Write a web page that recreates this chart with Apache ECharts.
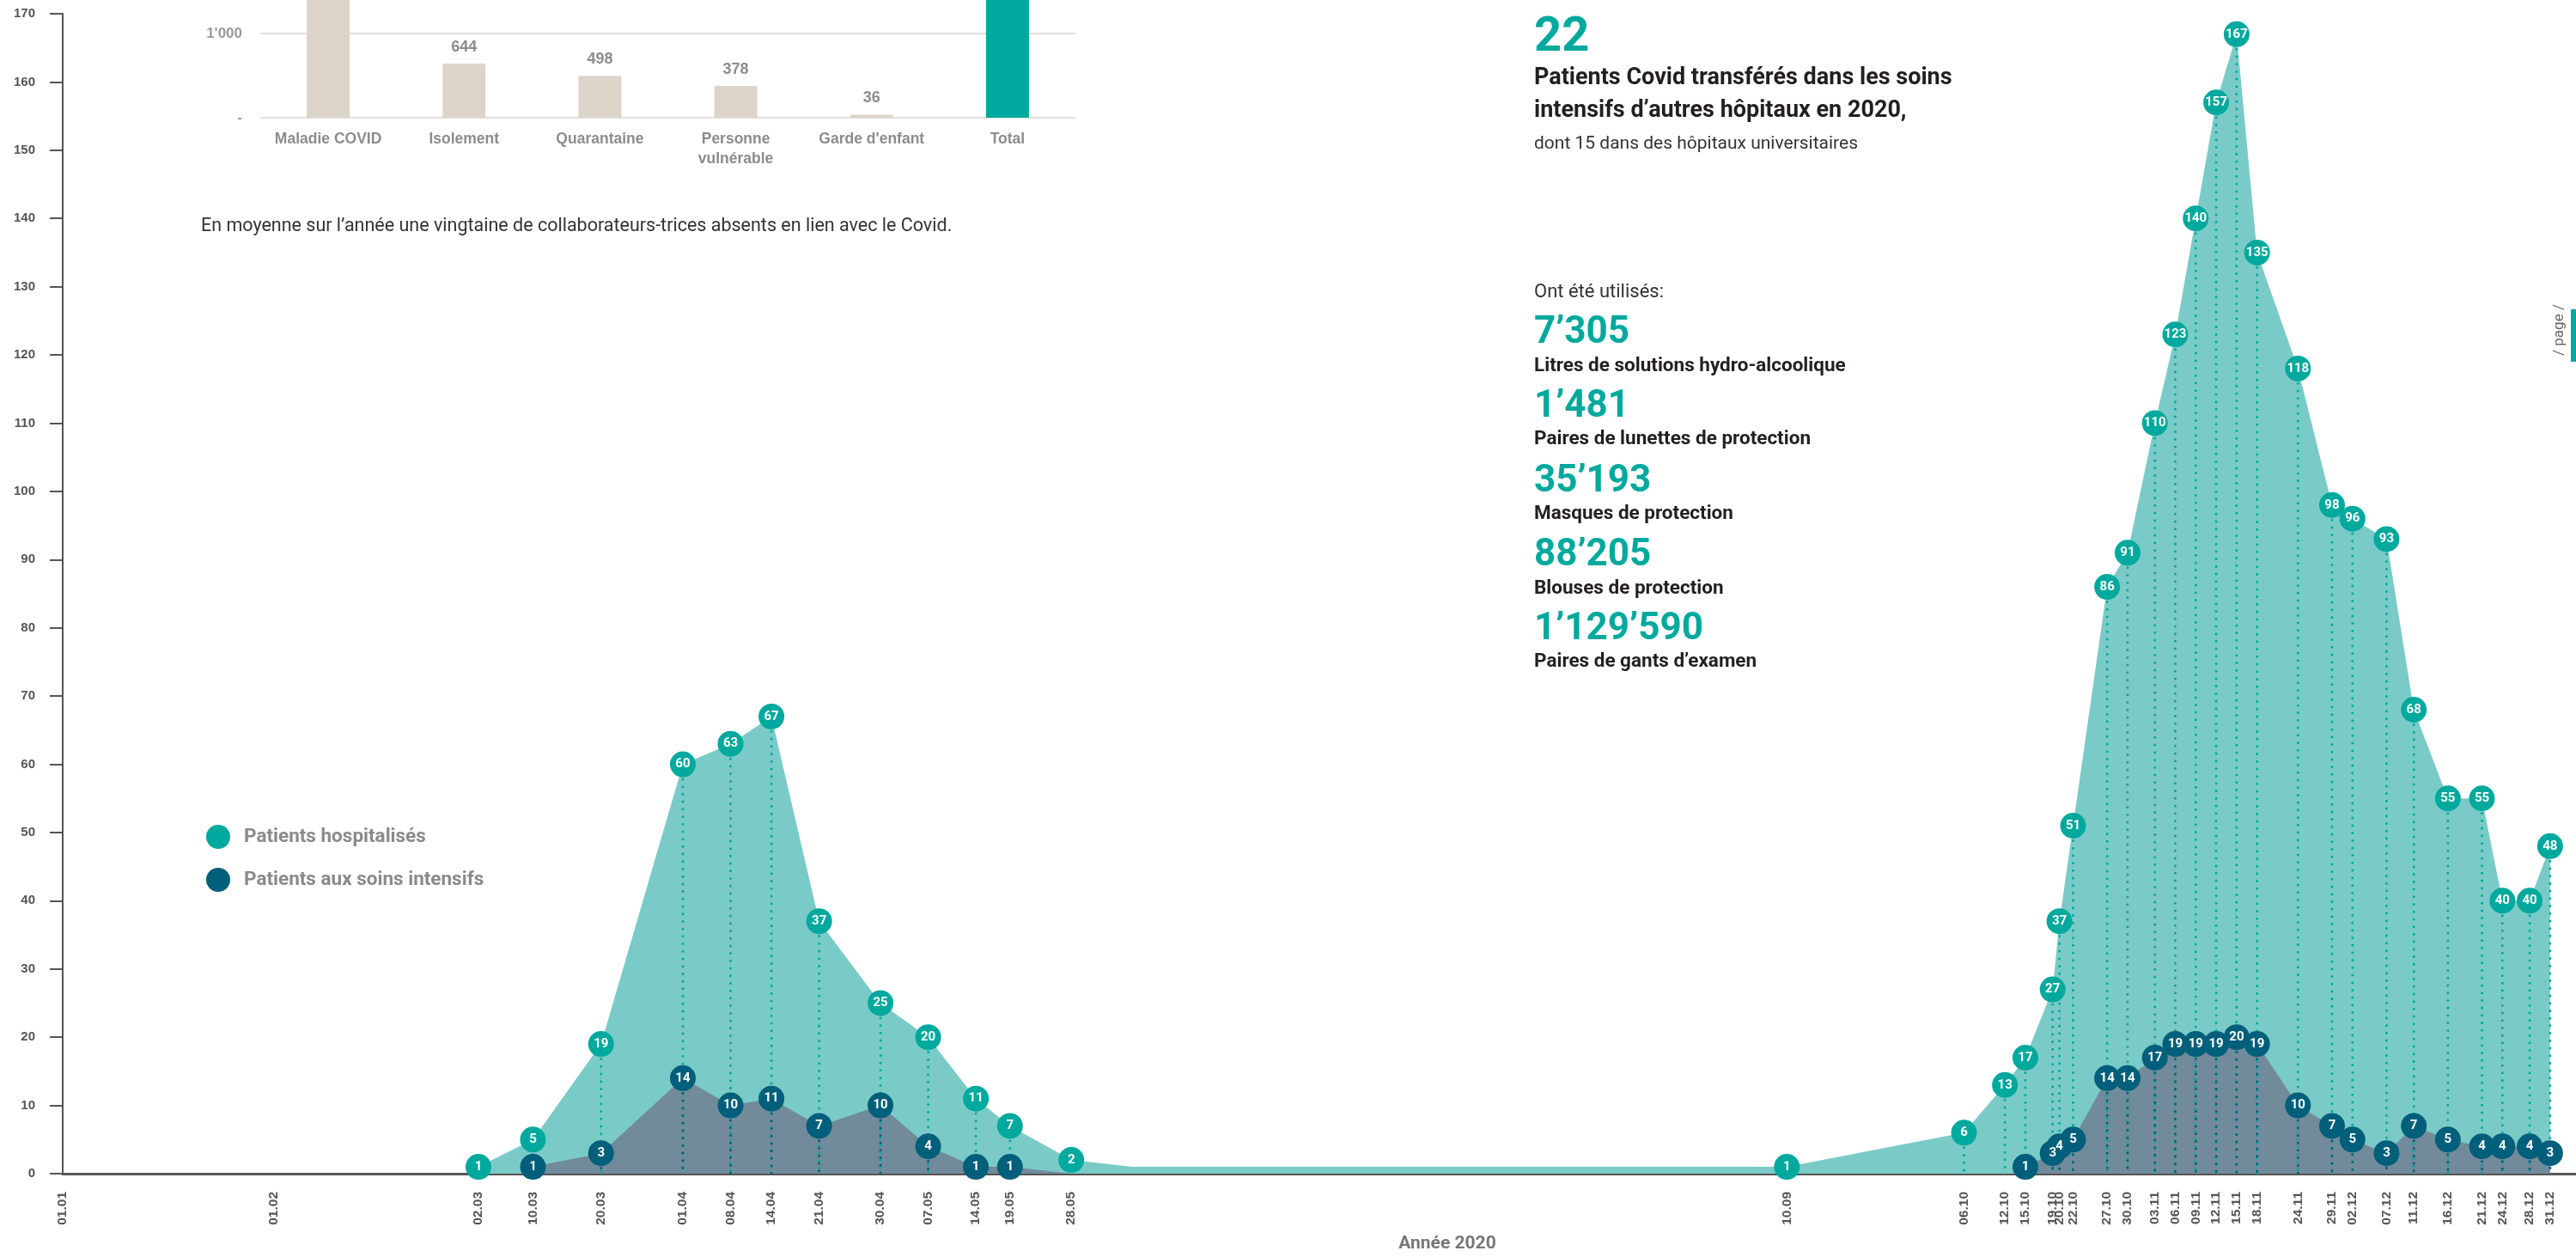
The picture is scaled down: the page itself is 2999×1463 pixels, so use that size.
<!DOCTYPE html>
<html>
<head>
<meta charset="utf-8">
<script src="https://cdn.jsdelivr.net/npm/echarts@6/dist/echarts.min.js"></script>
<style>
html,body{margin:0;padding:0;background:#fff;}
#chart{width:2999px;height:1463px;}
</style>
</head>
<body>
<div id="chart"></div>
<script>
// ---------- DATA ----------
const xTickLabels = ['01.01','01.02','02.03','10.03','20.03','01.04','08.04','14.04','21.04','30.04','07.05','14.05','19.05','28.05','10.09','06.10','12.10','15.10','19.10','20.10','22.10','27.10','30.10','03.11','06.11','09.11','12.11','15.11','18.11','24.11','29.11','02.12','07.12','11.12','16.12','21.12','24.12','28.12','31.12'];

const hospDates  = ['02.03','10.03','20.03','01.04','08.04','14.04','21.04','30.04','07.05','14.05','19.05','28.05','06.06','10.09','06.10','12.10','15.10','19.10','20.10','22.10','27.10','30.10','03.11','06.11','09.11','12.11','15.11','18.11','24.11','29.11','02.12','07.12','11.12','16.12','21.12','24.12','28.12','31.12'];
const hospValues = [1,5,19,60,63,67,37,25,20,11,7,2,1,1,6,13,17,27,37,51,86,91,110,123,140,157,167,135,118,98,96,93,68,55,55,40,40,48];
const hospUnlabeled = ['06.06'];

const icuWave1Dates  = ['10.03','20.03','01.04','08.04','14.04','21.04','30.04','07.05','14.05','19.05','28.05'];
const icuWave1Values = [1,3,14,10,11,7,10,4,1,1,0];
const icuWave2Dates  = ['15.10','19.10','20.10','22.10','27.10','30.10','03.11','06.11','09.11','12.11','15.11','18.11','24.11','29.11','02.12','07.12','11.12','16.12','21.12','24.12','28.12','31.12'];
const icuWave2Values = [1,3,4,5,14,14,17,19,19,19,20,19,10,7,5,3,7,5,4,4,4,3];

const yTicks = {min:0, max:170, interval:10};

const barCategories = ['Maladie COVID','Isolement','Quarantaine','Personne\nvulnérable',"Garde d'enfant",'Total'];
const barValues = [1850, 644, 498, 378, 36, 3406];

const seriesNames = ['Patients hospitalisés','Patients aux soins intensifs'];

// ---------- HELPERS ----------
function doy(s){ const [d,m]=s.split('.').map(Number); return (Date.UTC(2020,m-1,d)-Date.UTC(2020,0,1))/86400000; }
const labelByDay = {}; xTickLabels.forEach(l=>{ labelByDay[doy(l)] = l; });

const TEAL='#00a99d', TEAL_AREA='#7acbc7', DARK='#005f7a', DARK_AREA='#718b9b';

const hospLine = hospDates.map((d,i)=>[doy(d), hospValues[i]]);
const hospPts = hospDates.map((d,i)=>[doy(d), hospValues[i]]).filter((p,i)=>hospUnlabeled.indexOf(hospDates[i])<0);
const icuLine = icuWave1Dates.map((d,i)=>[doy(d), icuWave1Values[i]])
  .concat([[ (doy(icuWave1Dates[icuWave1Dates.length-1])+doy(icuWave2Dates[0]))/2, '-' ]])
  .concat(icuWave2Dates.map((d,i)=>[doy(d), icuWave2Values[i]]));
const icuPts = icuWave1Dates.map((d,i)=>[doy(d), icuWave1Values[i]])
  .concat(icuWave2Dates.map((d,i)=>[doy(d), icuWave2Values[i]]))
  .filter(p=>p[1]>0);

function dotted(color){
  return function(params, api){
    const x = api.value(0), y = api.value(1);
    const p1 = api.coord([x,y]), p0 = api.coord([x,0]);
    return {type:'line', shape:{x1:p1[0],y1:p1[1],x2:p0[0],y2:p0[1]},
      style:{stroke:color, lineWidth:3, lineDash:[0.01,8.7], lineCap:'round'}};
  };
}

const FONT='Roboto';
const chart = echarts.init(document.getElementById('chart'));

const rightX = 1786;
const txt = (text, x, y, size, color, weight) => ({
  type:'text', x:x, y:y, silent:true,
  style:{text:text, fill:color, font:(weight||'normal')+' '+size+'px '+FONT, textVerticalAlign:'middle'}
});

chart.setOption({
  animation:false,
  grid:[
    {left:73, right:0, top:16, bottom:97},
    {left:303, width:949, top:0, bottom:1326}
  ],
  xAxis:[
    {type:'value', gridIndex:0, min:0, max:368.8,
     axisLine:{show:true, lineStyle:{color:'#555', width:3}},
     axisTick:{show:false}, splitLine:{show:false},
     axisLabel:{customValues:xTickLabels.map(doy), rotate:90, margin:21,
       formatter:v=>labelByDay[Math.round(v)]||'',
       color:'#555', fontSize:15.5, fontWeight:'bold', fontFamily:'Liberation Sans'}},
    {type:'category', gridIndex:1, data:barCategories,
     axisLine:{show:false}, axisTick:{show:false},
     axisLabel:{interval:0, margin:14, color:'#8c8c8c', fontSize:17.5, fontWeight:'bold', fontFamily:'Liberation Sans', lineHeight:23}}
  ],
  yAxis:[
    {type:'value', gridIndex:0, min:yTicks.min, max:yTicks.max, interval:yTicks.interval,
     axisLine:{show:true, lineStyle:{color:'#555', width:2}},
     axisTick:{show:true, length:15, lineStyle:{color:'#555', width:2}},
     splitLine:{show:false},
     axisLabel:{margin:32, color:'#555', fontSize:15, fontWeight:'bold', fontFamily:'Liberation Sans'}},
    {type:'value', gridIndex:1, min:0, max:1398, interval:1000,
     axisLine:{show:false}, axisTick:{show:false},
     splitLine:{show:true, showMaxLine:false, lineStyle:{color:'#e3ded8', width:2}},
     axisLabel:{margin:21, color:'#9a9a9a', fontSize:17, fontWeight:'bold', fontFamily:'Liberation Sans', showMaxLabel:false,
       formatter:v=> v===0 ? '-' : (v===1000 ? "1'000" : '')}}
  ],
  legend:{
    orient:'vertical', left:235, top:955, itemWidth:28, itemHeight:28, itemGap:22,
    icon:'circle', selectedMode:false, data:seriesNames,
    textStyle:{color:'#8a8a8a', fontSize:22.5, fontWeight:'bold', fontFamily:FONT, padding:[0,0,0,11]}
  },
  series:[
    {type:'line', name:'hospArea', xAxisIndex:0, yAxisIndex:0, data:hospLine, symbol:'none', z:1,
     lineStyle:{width:0, opacity:0}, areaStyle:{color:TEAL_AREA, opacity:1}, silent:true},
    {type:'line', name:'icuArea', xAxisIndex:0, yAxisIndex:0, data:icuLine, symbol:'none', z:2, connectNulls:false,
     lineStyle:{width:0, opacity:0}, areaStyle:{color:DARK_AREA, opacity:1}, silent:true},
    {type:'custom', xAxisIndex:0, yAxisIndex:0, data:hospPts, renderItem:dotted(TEAL), z:3, silent:true},
    {type:'custom', xAxisIndex:0, yAxisIndex:0, data:icuPts, renderItem:dotted(DARK), z:4, silent:true},
    {type:'scatter', name:seriesNames[0], xAxisIndex:0, yAxisIndex:0, data:hospPts, z:5,
     symbol:'circle', symbolSize:30, itemStyle:{color:TEAL, opacity:1},
     label:{show:true, position:'inside', color:'#fff', fontSize:15, fontWeight:'bold', fontFamily:FONT,
       formatter:p=>p.value[1]}, silent:true},
    {type:'scatter', name:seriesNames[1], xAxisIndex:0, yAxisIndex:0, data:icuPts, z:6,
     symbol:'circle', symbolSize:30, itemStyle:{color:DARK, opacity:1},
     label:{show:true, position:'inside', color:'#fff', fontSize:15, fontWeight:'bold', fontFamily:FONT,
       formatter:p=>p.value[1]}, silent:true},
    {type:'bar', xAxisIndex:1, yAxisIndex:1, barWidth:50, silent:true,
     data:barValues.map((v,i)=>({value:v, itemStyle:{color: i===barValues.length-1 ? TEAL : '#ddd4c9'}})),
     label:{show:true, position:'top', distance:10, color:'#8c8c8c', fontSize:18, fontWeight:'bold', fontFamily:'Liberation Sans',
       formatter:p=>String(p.value).replace(/\B(?=(\d{3})+(?!\d))/g,"'")}}
  ],
  graphic:[
    txt('En moyenne sur l’année une vingtaine de collaborateurs-trices absents en lien avec le Covid.', 234, 264, 21.5, '#333'),
    txt('22', rightX, 45, 56, TEAL, 'bold'),
    txt('Patients Covid transférés dans les soins', rightX, 91, 27, '#231f20', 'bold'),
    txt('intensifs d’autres hôpitaux en 2020,', rightX, 129, 27, '#231f20', 'bold'),
    txt('dont 15 dans des hôpitaux universitaires', rightX, 168, 21, '#333'),
    txt('Ont été utilisés:', rightX, 340, 22, '#333'),
    txt('7’305', rightX, 388, 44, TEAL, 'bold'),
    txt('Litres de solutions hydro-alcoolique', rightX, 426, 22.5, '#231f20', 'bold'),
    txt('1’481', rightX, 474, 44, TEAL, 'bold'),
    txt('Paires de lunettes de protection', rightX, 511, 22.5, '#231f20', 'bold'),
    txt('35’193', rightX, 561, 44, TEAL, 'bold'),
    txt('Masques de protection', rightX, 598, 22.5, '#231f20', 'bold'),
    txt('88’205', rightX, 647, 44, TEAL, 'bold'),
    txt('Blouses de protection', rightX, 685, 22.5, '#231f20', 'bold'),
    txt('1’129’590', rightX, 733, 44, TEAL, 'bold'),
    txt('Paires de gants d’examen', rightX, 770, 22.5, '#231f20', 'bold'),
    {type:'text', x:1685, y:1448, silent:true,
     style:{text:'Année 2020', fill:'#777', font:'bold 21px '+FONT, textAlign:'center', textVerticalAlign:'middle'}},
    {type:'text', x:2980, y:384, rotation:Math.PI/2, silent:true,
     style:{text:'/ page /', fill:'#666', font:'17px '+FONT, textAlign:'center', textVerticalAlign:'middle'}},
    {type:'rect', shape:{x:2993, y:360, width:6, height:61}, style:{fill:TEAL}, silent:true}
  ]
});
</script>
</body>
</html>
